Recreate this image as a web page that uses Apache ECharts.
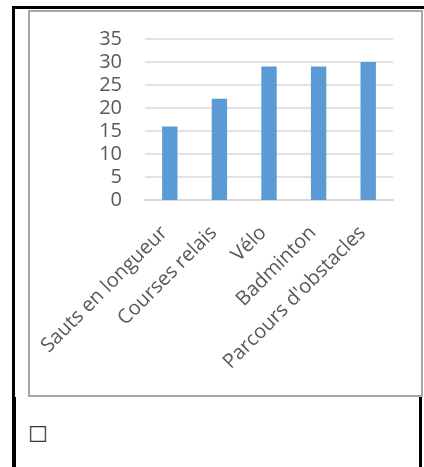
<!DOCTYPE html>
<html>
<head>
    <meta charset="UTF-8">
    <title>Activités</title>
    <script src="https://cdn.jsdelivr.net/npm/echarts@6/dist/echarts.min.js"></script>
    <style>
        body { margin: 0; background: #fff; }
        #page { position: relative; width: 424px; height: 467px; overflow: hidden; }
        .frame { position: absolute; box-sizing: border-box; }
        #cell1 { left: 12px; top: 6px; width: 414px; height: 408px; border-left: 3px solid #000; border-top: 3px solid #000; border-right: 2px solid #000; }
        #cell2 { left: 12px; top: 397px; width: 410px; height: 80px; border-left: 4px solid #000; border-right: 3px solid #000; }
        #box { left: 28px; top: 10px; width: 395px; height: 387px; border: 2px solid #a6a6a6; background: #fff; }
        #tick { position: absolute; left: 28px; top: 424px; font-family: "DejaVu Sans"; font-size: 22px; color: #333; line-height: 1; }
        #main { position: absolute; left: 0; top: 0; width: 424px; height: 467px; }
    </style>
</head>
<body>
<div id="page">
    <div class="frame" id="cell2"></div>
    <div class="frame" id="cell1"></div>
    <div class="frame" id="box"></div>
    <span id="tick">☐</span>
    <!-- le graphique -->
    <div id="main"></div>
</div>
<script type="text/javascript">
    // données
    var categories = ['Sauts en longueur', 'Courses relais', 'Vélo', 'Badminton', "Parcours d'obstacles"];
    var values = [16, 22, 29, 29, 30];

    var myChart = echarts.init(document.getElementById('main'));

    var option = {
        backgroundColor: 'transparent',
        animation: false,
        grid: {
            left: 145,
            right: 31,
            top: 39,
            bottom: 267
        },
        xAxis: {
            type: 'category',
            data: categories,
            axisLine: { lineStyle: { color: '#d9d9d9', width: 2 } },
            axisTick: { show: false },
            axisLabel: {
                rotate: 45,
                interval: 0,
                margin: 24,
                padding: [0, 8, 0, 0],
                color: '#595959',
                fontFamily: 'Open Sans',
                fontSize: 20
            }
        },
        yAxis: {
            type: 'value',
            min: 0,
            max: 35,
            interval: 5,
            axisLine: { show: false },
            axisTick: { show: false },
            splitLine: { lineStyle: { color: '#d9d9d9', width: 1.5 } },
            axisLabel: {
                margin: 23,
                color: '#595959',
                fontFamily: 'Open Sans',
                fontSize: 20
            }
        },
        series: [{
            type: 'bar',
            data: values,
            barWidth: '31%',
            itemStyle: { color: '#5b9bd5' }
        }]
    };

    myChart.setOption(option);
</script>
</body>
</html>
